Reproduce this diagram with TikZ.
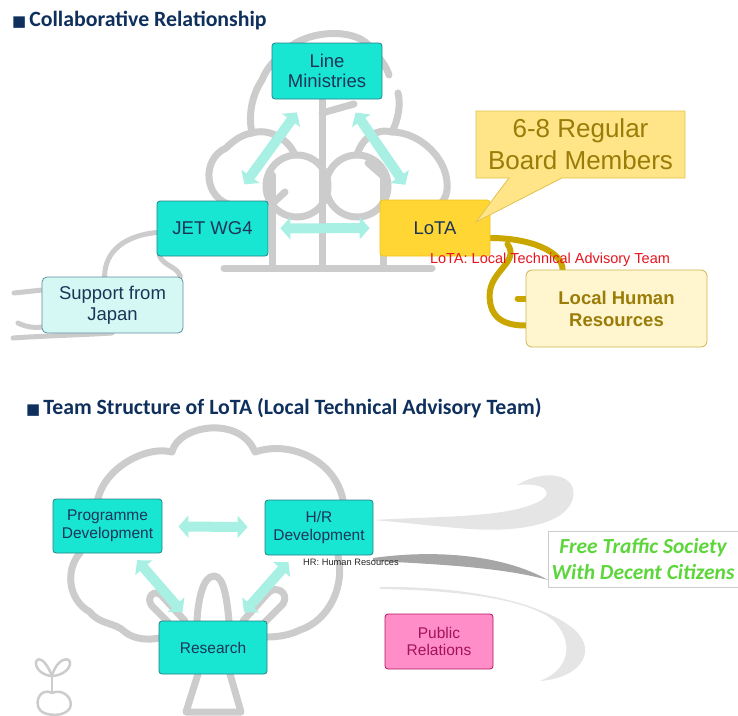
\documentclass[tikz,border=0pt]{standalone}
\usepackage{fontspec}
\setmainfont{Liberation Sans}
\newfontfamily\titlefont{Carlito}
\newfontfamily\symfont{DejaVu Sans}
\usetikzlibrary{arrows.meta,shapes.callouts,calc}

\definecolor{turq}{HTML}{18E6D3}
\definecolor{turqline}{HTML}{2A7F86}
\definecolor{navytext}{HTML}{1B3557}
\definecolor{titleblue}{HTML}{0F2F5C}
\definecolor{mint}{HTML}{A8F0E3}
\definecolor{treegray}{HTML}{CCCCCC}
\definecolor{lotafill}{HTML}{FFD633}
\definecolor{lotaline}{HTML}{F2C418}
\definecolor{callfill}{HTML}{FFE488}
\definecolor{callline}{HTML}{E2C24E}
\definecolor{olive}{HTML}{9A7C08}
\definecolor{creamfill}{HTML}{FFF5CF}
\definecolor{creamline}{HTML}{CDB452}
\definecolor{ropegold}{HTML}{C9A600}
\definecolor{palecyan}{HTML}{D5F8F4}
\definecolor{paleline}{HTML}{5C8EA0}
\definecolor{pinkfill}{HTML}{FF8DC7}
\definecolor{pinkline}{HTML}{B3135F}
\definecolor{pinktext}{HTML}{A3125A}
\definecolor{swirl}{HTML}{E5E5E5}
\definecolor{swirldark}{HTML}{A6A6A6}
\definecolor{leafgreen}{HTML}{5CD63B}
\definecolor{notered}{HTML}{E8141E}

\pgfdeclarelayer{drawing}
\pgfdeclarelayer{links}
\pgfsetlayers{drawing,links,main}

\tikzset{
  heading/.style={anchor=base west, inner sep=0pt, text=titleblue,
    font=\titlefont\bfseries\fontsize{21.8}{24}\selectfont},
  teal box/.style={draw=turqline, fill=turq, rounded corners=3pt, line width=0.8pt,
    text=navytext, align=center, inner sep=0pt,
    font=\fontsize{18.5}{20.5}\selectfont},
  small teal/.style={teal box, font=\fontsize{15.5}{17.5}\selectfont},
  dblarrow/.style={draw=mint, line width=10pt,
    {Triangle[width=22pt,length=10pt]}-{Triangle[width=22pt,length=10pt]}},
  treeline/.style={draw=treegray, line width=7pt, line cap=round, line join=round},
  graycord/.style={draw=treegray, line width=5pt, line cap=round},
  goldcord/.style={draw=ropegold, line width=6pt, line cap=round},
}

\newcommand{\sqmark}{{\symfont\fontsize{15}{15}\selectfont ■}}

\begin{document}
\begin{tikzpicture}[x=1pt,y=-1pt]
\useasboundingbox (0,0) rectangle (738,715);

\begin{pgfonlayer}{drawing}
% ---------- upper tree (outline drawing) ----------
\draw[treeline] (322,100) -- (322,268);
\draw[treeline] (224,268) -- (432,268);
\draw[treeline] (272,175) -- (272,266);
\draw[treeline] (383,178) -- (383,266);
\draw[treeline] (322,113) -- (354,104);
\draw[treeline] (273,203) -- (285,192);
\draw[treeline] (368,163) -- (383,176);
\draw[treeline] (297,186) circle (31);
\draw[treeline] (357,186) circle (31);
\draw[treeline] (232,205) .. controls (205,200) and (200,160) .. (226,148)
  .. controls (236,138) and (245,134) .. (252,133)
  .. controls (248,115) and (252,95) .. (262,80)
  .. controls (266,70) and (272,62) .. (280,57)
  .. controls (300,28) and (360,26) .. (372,50)
  .. controls (380,58) and (386,66) .. (389,75);
\draw[treeline] (252,133) .. controls (268,128) and (288,138) .. (295,155);
\draw[treeline] (398,93) .. controls (401,105) and (398,120) .. (392,132)
  .. controls (420,132) and (450,160) .. (447,190)
  .. controls (446,198) and (442,203) .. (438,206);
\draw[treeline] (392,132) .. controls (376,128) and (362,138) .. (357,155);

% ---------- lower tree (outline drawing) ----------
\begin{scope}[line width=8pt]
\draw[treeline] (97,505) .. controls (100,470) and (145,445) .. (172,452)
  .. controls (178,425) and (240,415) .. (255,452)
  .. controls (290,440) and (335,460) .. (343,500);
\draw[treeline] (338,556) .. controls (345,585) and (330,620) .. (300,630)
  .. controls (290,635) and (278,637) .. (267,637);
\draw[treeline] (80,553) .. controls (65,570) and (68,600) .. (90,612)
  .. controls (100,625) and (115,622) .. (125,632)
  .. controls (135,640) and (150,640) .. (159,638);
\draw[treeline] (197,621) .. controls (198,600) and (203,576) .. (214,576)
  .. controls (224,576) and (227,600) .. (229,621);
\draw[treeline] (185,621) -- (162,596) .. controls (155,588) and (145,597) .. (152,606) -- (168,622);
\draw[treeline] (243,621) -- (268,593) .. controls (275,585) and (290,592) .. (283,604) -- (265,622);
\draw[treeline] (198,674) -- (186,712) -- (241,712) -- (230,674);
\end{scope}

% sprout
\begin{scope}[draw=treegray, line width=2.5pt, line join=round]
  \draw (52,676) .. controls (46,660) and (38,656) .. (36,662)
    .. controls (35,670) and (45,676) .. (52,676);
  \draw (52,676) .. controls (56,660) and (68,656) .. (70,662)
    .. controls (71,670) and (60,676) .. (52,676);
  \draw (52,676) -- (52,692);
  \draw (52,693) .. controls (38,686) and (32,708) .. (44,713)
    .. controls (52,716) and (65,716) .. (70,708)
    .. controls (74,698) and (62,688) .. (52,693);
\end{scope}

% ---------- wind swooshes ----------
\fill[swirl] (373,520) .. controls (440,516) and (505,518) .. (538,502)
  .. controls (556,493) and (545,482) .. (517,485)
  .. controls (545,468) and (578,474) .. (573,498)
  .. controls (566,526) and (515,532) .. (470,529)
  .. controls (430,526) and (400,522) .. (373,520) -- cycle;
\fill[swirldark] (373,558) .. controls (430,550) and (500,553) .. (548,580)
  .. controls (505,568) and (440,564) .. (373,561) -- cycle;
\fill[swirl] (380,587) .. controls (460,586) and (540,600) .. (575,630)
  .. controls (598,652) and (580,678) .. (540,681)
  .. controls (568,670) and (575,645) .. (555,622)
  .. controls (530,598) and (450,590) .. (380,589) -- cycle;

% wind lines behind the support box
\draw[graycord] (14,293) -- (42,290);
\draw[graycord] (18,323) .. controls (26,327) and (34,328) .. (42,327);
\draw[graycord] (13,338) .. controls (40,336) and (80,335) .. (112,333);
\end{pgfonlayer}

% ---------- headings ----------
\node[heading] (title1) at (12,26) {\sqmark\hspace{3pt}Collaborative Relationship};
\node[heading] (title2) at (26,414) {\sqmark\hspace{3pt}Team Structure of LoTA (Local Technical Advisory Team)};

% ---------- upper nodes ----------
\node[teal box, minimum width=110pt, minimum height=56pt] (lm) at (327,71) {Line\\Ministries};
\node[teal box, minimum width=111pt, minimum height=55pt] (jet) at (212.5,228.5) {JET WG4};
\node[teal box, draw=lotaline, fill=lotafill, minimum width=110pt, minimum height=56pt] (lota) at (435,228) {LoTA};
\node[teal box, draw=paleline, fill=palecyan, rounded corners=5pt,
  minimum width=141pt, minimum height=56pt] (sup) at (112.5,305) {Support from\\Japan};
\node[teal box, draw=creamline, fill=creamfill, text=olive, rounded corners=6pt,
  font=\bfseries\fontsize{18.5}{22}\selectfont,
  minimum width=181pt, minimum height=77pt] (lhr) at (616.5,308.5) {Local Human\\Resources};
\node[rectangle callout, draw=callline, fill=callfill, text=olive, line width=0.8pt,
  align=center, inner sep=0pt, font=\fontsize{26}{32}\selectfont,
  minimum width=209pt, minimum height=67pt,
  callout absolute pointer={($(lota.center)+(41,-6)$)}, callout pointer width=53pt]
  (board) at (580.5,144.5) {6-8 Regular\\Board Members};
\node[text=notered, inner sep=0pt, font=\fontsize{14.5}{16}\selectfont] (lotanote) at (550,260)
  {LoTA: Local Technical Advisory Team};

% ---------- lower nodes ----------
\node[small teal, minimum width=109pt, minimum height=54pt] (pd) at (107.5,526) {Programme\\Development};
\node[small teal, minimum width=108pt, minimum height=55pt] (hrd) at (319,527.5) {H/R\\Development};
\node[small teal, minimum width=108pt, minimum height=53pt] (res) at (213,647.5) {Research};
\node[small teal, draw=pinkline, fill=pinkfill, text=pinktext,
  minimum width=108pt, minimum height=55pt] (pr) at (439,641.5) {Public\\Relations};
\node[text=black!85, inner sep=0pt, font=\fontsize{9.3}{10}\selectfont] (hrnote) at (351,562)
  {HR: Human Resources};
\node[draw=black!20, fill=white, line width=0.8pt, text=leafgreen, align=center, inner sep=0pt,
  font=\titlefont\bfseries\itshape\fontsize{21.5}{26}\selectfont,
  minimum width=190pt, minimum height=56pt] (goal) at (643,559)
  {Free Traffic Society\\With Decent Citizens};

% ---------- links ----------
\begin{pgfonlayer}{links}
\draw[graycord] ($(jet.west)+(0,4)$) .. controls +(-32,3) and +(0,-25) .. ($(sup.north west)+(63,0)$);
\draw[graycord] ($(jet.south west)+(3,0)$) .. controls +(5,10) and +(-3,-10) .. ($(sup.north east)+(-3,0)$);

\draw[goldcord] ($(lota.east)+(0,10)$) .. controls +(40,0) and +(0,-18) .. ($(lhr.north west)+(37,0)$);
\draw[goldcord] ($(lota.east)+(17,16)$) .. controls +(13,18) and +(0,-25) .. ($(lhr.west)+(-36,-13)$)
  .. controls +(0,23) and +(-21,0) .. ($(lhr.west)+(0,17)$);
\draw[goldcord] ($(lhr.west)+(-8,-10)$) -- ($(lhr.west)+(2,-10)$);

\draw[dblarrow, shorten <=12pt, shorten >=10pt] (jet) -- (lota);
\draw[dblarrow, shorten <=20pt, shorten >=16pt] (jet) -- (lm);
\draw[dblarrow, shorten <=16pt, shorten >=18pt] (lm) -- (lota);

\draw[dblarrow, shorten <=16pt, shorten >=17pt] (pd) -- (hrd);
\draw[dblarrow, shorten <=9pt, shorten >=11pt] (pd) -- (res);
\draw[dblarrow, shorten <=9pt, shorten >=11pt] (hrd) -- (res);
\end{pgfonlayer}

\end{tikzpicture}
\end{document}
